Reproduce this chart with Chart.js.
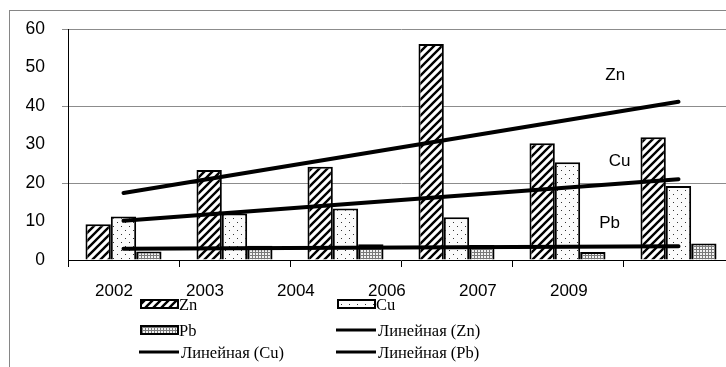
<!DOCTYPE html>
<html>
<head>
<meta charset="utf-8">
<script src="https://cdn.jsdelivr.net/npm/chart.js@4.4.0/dist/chart.umd.min.js"></script>
<style>
  html, body { margin: 0; padding: 0; background: #fff; }
  #wrap { position: relative; width: 726px; height: 367px; overflow: hidden; }
  #frame { position: absolute; left: 9px; top: 10px; width: 800px; height: 400px;
           border-left: 1px solid #868686; border-top: 1px solid #868686; }
  #grafico { position: absolute; left: 0; top: 0; }
  .leg { position: absolute; font-family: "Liberation Serif", "Times New Roman", serif;
         font-size: 16.5px; line-height: 20px; color: #000; white-space: nowrap; }
  .sw { position: absolute; }
</style>
</head>
<body>
<div id="wrap">
  <div id="frame"></div>
  <canvas id="grafico" width="742" height="367"></canvas>
  <div id="legend"></div>
</div>
<script>
const years = ['2002', '2003', '2004', '2006', '2007', '2009'];
const zn = [9.3, 23.4, 24.2, 56.1, 30.3, 31.9];
const cu = [11.3, 12.1, 13.4, 11.1, 25.4, 19.2];
const pb = [2.2, 3.7, 4.1, 3.9, 2.1, 4.3];

// линии тренда: начало и конец
const trendZn = [17.4, null, null, null, null, 41.1];
const trendCu = [10.2, null, null, null, null, 21.0];
const trendPb = [2.9, null, null, null, null, 3.6];

const yTicks = [0, 10, 20, 30, 40, 50, 60];

const noteText = ['Zn', 'Cu', 'Pb'];
const noteX = [4.43, 4.47, 4.38];
const noteY = [48, 25.7, 9.4];

function makePattern(kind) {
  const c = document.createElement('canvas');
  const g = c.getContext('2d');
  if (kind === 'hatch') {
    c.width = 8; c.height = 8;
    g.fillStyle = '#fff'; g.fillRect(0, 0, 8, 8);
    g.strokeStyle = '#000'; g.lineWidth = 2.4;
    g.beginPath();
    g.moveTo(-2, 10); g.lineTo(10, -2);
    g.moveTo(-2, 2); g.lineTo(2, -2);
    g.moveTo(6, 10); g.lineTo(10, 6);
    g.stroke();
  } else if (kind === 'dots') {
    c.width = 8; c.height = 8;
    g.fillStyle = '#fbfbfb'; g.fillRect(0, 0, 8, 8);
    g.fillStyle = '#333';
    g.fillRect(1, 2, 1, 1);
    g.fillRect(5, 6, 1, 1);
  } else {
    c.width = 3; c.height = 3;
    g.fillStyle = '#f2f2f2'; g.fillRect(0, 0, 3, 3);
    g.fillStyle = '#7a7a7a';
    g.fillRect(0, 0, 3, 1);
    g.fillRect(0, 0, 1, 3);
  }
  return g.createPattern(c, 'repeat');
}

const patZn = makePattern('hatch');
const patCu = makePattern('dots');
const patPb = makePattern('grid');

const trendNotes = {
  id: 'trendNotes',
  afterDatasetsDraw(chart) {
    const { ctx, scales: { x, y } } = chart;
    ctx.save();
    ctx.font = '17px "Liberation Sans", Arial, sans-serif';
    ctx.fillStyle = '#000';
    ctx.textAlign = 'center';
    ctx.textBaseline = 'middle';
    noteText.forEach((t, i) => {
      ctx.fillText(t, x.getPixelForValue(noteX[i]), y.getPixelForValue(noteY[i]));
    });
    ctx.restore();
  }
};

function barSet(label, data, pat) {
  return {
    type: 'bar', label: label, data: data,
    backgroundColor: pat, borderColor: '#000', borderWidth: 2,
    barPercentage: 1, categoryPercentage: 0.685, order: 2
  };
}

function trendSet(label, data) {
  return {
    type: 'line', label: label, data: data,
    borderColor: '#000', borderWidth: 4, borderCapStyle: 'round',
    pointRadius: 0, spanGaps: true, fill: false, order: 1
  };
}

const axisFont = { family: '"Liberation Sans", Arial, sans-serif', size: 17.5 };

new Chart(document.getElementById('grafico'), {
  data: {
    labels: years,
    datasets: [
      barSet('Zn', zn, patZn),
      barSet('Cu', cu, patCu),
      barSet('Pb', pb, patPb),
      trendSet('Линейная (Zn)', trendZn),
      trendSet('Линейная (Cu)', trendCu),
      trendSet('Линейная (Pb)', trendPb)
    ]
  },
  options: {
    responsive: false,
    animation: false,
    layout: { padding: { left: 26, top: 29, right: 8, bottom: 66 } },
    plugins: { legend: { display: false }, tooltip: { enabled: false } },
    scales: {
      x: {
        type: 'category',
        offset: true,
        weight: 0,
        grid: { display: true, drawOnChartArea: false, drawTicks: true, tickLength: 7, color: '#000', offset: true },
        border: { display: true, color: '#000', width: 1 },
        ticks: { display: false },
        afterFit: s => { s.height = 7; s.paddingLeft = 0; s.paddingRight = 0; }
      },
      x2: {
        type: 'linear',
        position: 'bottom',
        weight: 1,
        min: -0.505,
        max: 6.815,
        grid: { display: false, drawTicks: false },
        border: { display: false },
        ticks: {
          stepSize: 1, includeBounds: false, autoSkip: false, maxRotation: 0, padding: 14,
          color: '#000', font: { family: axisFont.family, size: 17 },
          callback: v => {
            const i = Math.round(v);
            return (Math.abs(v - i) < 1e-6 && years[i] !== undefined) ? years[i] : '';
          }
        },
        afterFit: s => { s.height = 34; s.paddingLeft = 0; s.paddingRight = 0; }
      },
      y: {
        min: 0,
        max: 60,
        afterBuildTicks: s => { s.ticks = yTicks.map(v => ({ value: v })); },
        grid: {
          color: c => (c.tick && c.tick.value % 20 === 0 && c.tick.value !== 0) ? '#8c8c8c' : 'rgba(0,0,0,0)',
          tickLength: 6
        },
        border: { display: true, color: '#000', width: 1 },
        ticks: { padding: 17, color: '#000', font: axisFont },
        afterFit: s => { s.width = 42; s.paddingTop = 0; s.paddingBottom = 0; }
      }
    }
  },
  plugins: [trendNotes]
});

// легенда
const legendItems = [
  { label: 'Zn', kind: 'box', pat: patZn, col: 0, row: 0 },
  { label: 'Cu', kind: 'box', pat: patCu, col: 1, row: 0 },
  { label: 'Pb', kind: 'box', pat: patPb, col: 0, row: 1 },
  { label: 'Линейная (Zn)', kind: 'line', col: 1, row: 1 },
  { label: 'Линейная (Cu)', kind: 'line', col: 0, row: 2 },
  { label: 'Линейная (Pb)', kind: 'line', col: 1, row: 2 }
];
const colLeft = [139, 336];
const rowMid = [304, 329.5, 352];

const legend = document.getElementById('legend');
legendItems.forEach(it => {
  const cv = document.createElement('canvas');
  cv.className = 'sw';
  cv.width = 40; cv.height = 12;
  cv.style.left = colLeft[it.col] + 'px';
  cv.style.top = (rowMid[it.row] - 6) + 'px';
  const g = cv.getContext('2d');
  if (it.kind === 'box') {
    g.fillStyle = it.pat;
    g.fillRect(2, 2, 37, 8);
    g.strokeStyle = '#000'; g.lineWidth = 2;
    g.strokeRect(2, 2, 37, 8);
  } else {
    g.strokeStyle = '#000'; g.lineWidth = 3;
    g.beginPath(); g.moveTo(0, 6); g.lineTo(40, 6); g.stroke();
  }
  legend.appendChild(cv);
  const t = document.createElement('div');
  t.className = 'leg';
  t.textContent = it.label;
  t.style.left = (colLeft[it.col] + (it.kind === 'box' ? 40 : 42)) + 'px';
  t.style.top = (rowMid[it.row] - 9) + 'px';
  legend.appendChild(t);
});
</script>
</body>
</html>
